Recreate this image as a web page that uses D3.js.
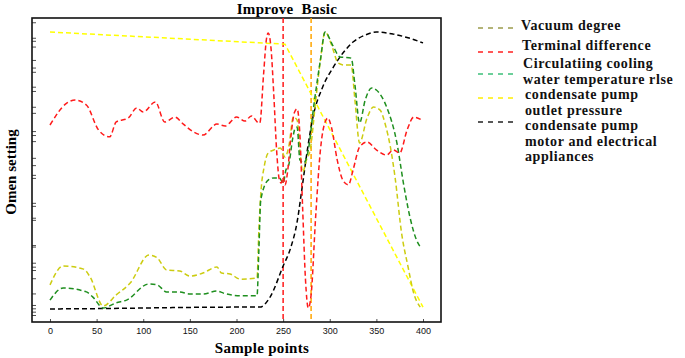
<!DOCTYPE html>
<html>
<head>
<meta charset="utf-8">
<script src="https://cdn.jsdelivr.net/npm/d3@7"></script>
<style>
  body { margin: 0; background: #fff; }
  svg { display: block; }
</style>
</head>
<body>
<svg id="grafico" width="685" height="358"></svg>
<script>
// datos (eje y sin unidades, escala 0-100)
var xTicks = [0, 50, 100, 150, 200, 250, 300, 350, 400];
var yTicks = [98.6, 93.5, 92.5, 90.6, 86.2, 83.7, 82.3, 77.4, 76.0, 70.8, 68.8, 62.8, 61.5, 59.5,
  54.0, 51.6, 48.4, 47.4, 39.2, 38.2, 34.3, 33.6, 25.3, 24.8, 19.5, 18.2, 17.1, 14.4, 9.4, 5.6, 4.5, 3.4, 2.3];

var lineasVerticales = [250, 280];

var vacioX = [0, 14, 36, 43, 57, 71, 86, 106, 115, 125, 139, 150, 164, 179, 184, 193, 204, 222, 224, 226, 230, 234, 240,
  247, 252, 256, 261, 265, 268, 271, 275, 279, 285, 290, 295, 302, 309, 316, 323, 327, 332, 340, 347, 354, 360, 365, 370,
  377, 384, 390, 397];
var vacioY = [12.2, 18.4, 17.4, 14.8, 5.3, 8.9, 12.8, 22.0, 21.1, 17.1, 16.8, 15.1, 16.1, 18.1, 16.1, 15.8, 14.1, 14.5,
  30.3, 41.8, 51.6, 55.6, 56.6, 57.2, 54.3, 57.6, 67.4, 66.4, 56.6, 49.3, 53.3, 56.6, 73.0, 86.2, 95.4, 91.1, 85.2, 84.5,
  84.5, 73.0, 58.9, 67.1, 70.7, 69.7, 64.5, 57.6, 47.7, 29.3, 18.1, 9.5, 4.9];

var terminalX = [0, 18, 27, 39, 52, 64, 71, 84, 93, 100, 113, 123, 134, 143, 154, 164, 179, 188, 200, 209, 216, 224, 225,
  229, 232, 234, 237, 240, 243, 246, 248, 250, 252, 255, 258, 262, 265, 268, 271, 274, 277, 280, 285, 290, 295, 298, 302,
  308, 314, 320, 325, 332, 340, 350, 361, 368, 375, 383, 390, 399];
var terminalY = [64.8, 72.0, 73.0, 71.4, 63.2, 60.9, 65.8, 67.1, 70.4, 69.1, 72.4, 65.8, 67.4, 65.1, 62.5, 61.5, 65.1,
  64.5, 67.4, 66.1, 67.8, 65.5, 65.5, 81.3, 92.8, 95.1, 90.1, 74.7, 56.6, 46.7, 45.7, 47.7, 45.1, 50.0, 59.9, 68.8, 70.1,
  61.5, 36.8, 13.8, 4.6, 8.9, 35.2, 56.6, 65.8, 67.1, 63.8, 53.3, 46.7, 45.1, 50.0, 57.6, 59.2, 56.6, 54.9, 56.6, 55.6,
  63.2, 67.4, 66.4];

var aguaX = [0, 14, 39, 46, 57, 71, 82, 106, 115, 125, 139, 150, 164, 179, 186, 204, 222, 224, 226, 234, 240, 246, 250,
  253, 256, 260, 263, 265, 268, 272, 277, 283, 290, 295, 303, 311, 323, 327, 332, 338, 345, 350, 361, 372, 379, 386, 393, 397];
var aguaY = [7.2, 11.2, 9.9, 8.2, 4.6, 6.3, 7.2, 12.5, 12.2, 9.9, 9.9, 9.2, 9.2, 10.2, 9.5, 8.6, 8.6, 23.7, 40.1, 46.7,
  47.4, 47.4, 45.7, 50.0, 51.6, 59.9, 63.8, 64.1, 53.3, 52.3, 56.6, 71.4, 86.2, 95.4, 91.1, 87.2, 86.8, 78.0, 65.5, 73.0,
  77.0, 76.3, 70.7, 58.9, 45.7, 34.5, 27.0, 24.7];

var presionX = [0, 252, 400];
var presionY = [95.4, 91.4, 4.9];

var motorX = [0, 50, 100, 150, 200, 225, 236, 250, 258, 265, 270, 276, 282, 292, 304, 315, 325, 338, 350, 368, 385, 400];
var motorY = [4.3, 4.4, 4.6, 4.8, 4.9, 4.9, 8.2, 18.4, 24.3, 32.9, 43.4, 56.6, 67.4, 77.0, 83.9, 88.8, 92.1, 94.4, 95.4,
  94.7, 93.4, 91.8];

var etiquetas = [["Vacuum degree"], ["Terminal difference"], ["Circulatiing cooling", "water temperature rlse"],
  ["condensate pump", "outlet pressure"], ["condensate pump", "motor and electrical", "appliances"]];
var coloresLinea = ["#cccc10", "#ff1a1a", "#1f8f1f", "#ffff00", "#000000"];
var coloresLeyenda = ["#9c9c4c", "#ff2020", "#3cc07a", "#ffee00", "#222222"];

var svg = d3.select("#grafico");
var margen = { izq: 32, der: 441, arr: 18, aba: 322 };
var serif = "'Liberation Serif', 'DejaVu Serif', serif";

var x = d3.scaleLinear().domain([-19.3, 419.3]).range([margen.izq, margen.der]);
var y = d3.scaleLinear().domain([0, 100]).range([margen.aba, margen.arr]);

// ejes
var ejeX = svg.append("g")
  .attr("transform", "translate(0," + margen.aba + ")")
  .call(d3.axisBottom(x).tickValues(xTicks).tickSizeInner(-3).tickSizeOuter(0).tickPadding(6));
ejeX.selectAll("text").style("font", "9px 'Liberation Sans', Arial, sans-serif").attr("fill", "#111");

var ejeY = svg.append("g")
  .attr("transform", "translate(" + margen.izq + ",0)")
  .call(d3.axisLeft(y).tickValues(yTicks).tickSizeInner(-4).tickSizeOuter(0).tickFormat(""));

svg.selectAll(".domain").remove();
svg.selectAll(".tick line").attr("stroke", "#222").attr("stroke-width", 0.8);

// marco
svg.append("rect")
  .attr("x", margen.izq).attr("y", margen.arr)
  .attr("width", margen.der - margen.izq).attr("height", margen.aba - margen.arr)
  .attr("fill", "none").attr("stroke", "#111").attr("stroke-width", 1.6);

// lineas verticales
var coloresVert = ["#ff1a1a", "#ffa500"];
svg.selectAll(".vert")
  .data(lineasVerticales)
  .join("line")
  .attr("class", "vert")
  .attr("x1", function (d) { return x(d); }).attr("x2", function (d) { return x(d); })
  .attr("y1", margen.arr).attr("y2", margen.aba)
  .attr("stroke", function (d, i) { return coloresVert[i]; })
  .attr("stroke-width", 1.5)
  .attr("stroke-dasharray", "5,3");

// series (la presion va en tramos rectos)
var series = [[vacioX, vacioY], [terminalX, terminalY], [aguaX, aguaY], [presionX, presionY], [motorX, motorY]];
var curvas = [d3.curveMonotoneX, d3.curveMonotoneX, d3.curveMonotoneX, d3.curveLinear, d3.curveMonotoneX];

var orden = [4, 3, 0, 2, 1];
orden.forEach(function (i) {
  var puntos = d3.zip(series[i][0], series[i][1]);
  var linea = d3.line()
    .x(function (d) { return x(d[0]); })
    .y(function (d) { return y(d[1]); })
    .curve(curvas[i]);
  svg.append("path")
    .datum(puntos)
    .attr("d", linea)
    .attr("fill", "none")
    .attr("stroke", coloresLinea[i])
    .attr("stroke-width", 1.5)
    .attr("stroke-dasharray", "5,3");
});

// titulo y etiquetas
svg.append("text")
  .attr("x", 287).attr("y", 14)
  .attr("text-anchor", "middle")
  .style("font", "bold 15px " + serif)
  .style("letter-spacing", "0.3px")
  .style("white-space", "pre")
  .text("Improve  Basic");

svg.append("text")
  .attr("x", 262).attr("y", 353)
  .attr("text-anchor", "middle")
  .style("font", "bold 15px " + serif)
  .style("letter-spacing", "0.3px")
  .text("Sample points");

svg.append("text")
  .attr("transform", "translate(16,172) rotate(-90)")
  .attr("text-anchor", "middle")
  .style("font", "bold 15px " + serif)
  .text("Omen setting");

// leyenda
var lineaLeyendaY = [28, 52, 74, 98, 122];
var textoLeyendaY = [30, 50, 68, 99, 130];
var textoLeyendaX = [521, 522, 523, 525, 525];
var alturaRenglon = 15.5;

var ley = svg.selectAll(".ley")
  .data(etiquetas)
  .join("g")
  .attr("class", "ley");

ley.append("line")
  .attr("x1", 478).attr("x2", 513)
  .attr("y1", function (d, i) { return lineaLeyendaY[i]; })
  .attr("y2", function (d, i) { return lineaLeyendaY[i]; })
  .attr("stroke", function (d, i) { return coloresLeyenda[i]; })
  .attr("stroke-width", 1.5)
  .attr("stroke-dasharray", "5,5");

ley.each(function (d, i) {
  var t = d3.select(this).append("text")
    .attr("x", textoLeyendaX[i])
    .attr("y", textoLeyendaY[i])
    .style("font", "bold 14px " + serif)
    .style("letter-spacing", "0.6px")
    .attr("fill", "#111");
  d.forEach(function (renglon, k) {
    t.append("tspan")
      .attr("x", textoLeyendaX[i])
      .attr("dy", k === 0 ? 0 : alturaRenglon)
      .text(renglon);
  });
});
</script>
</body>
</html>
